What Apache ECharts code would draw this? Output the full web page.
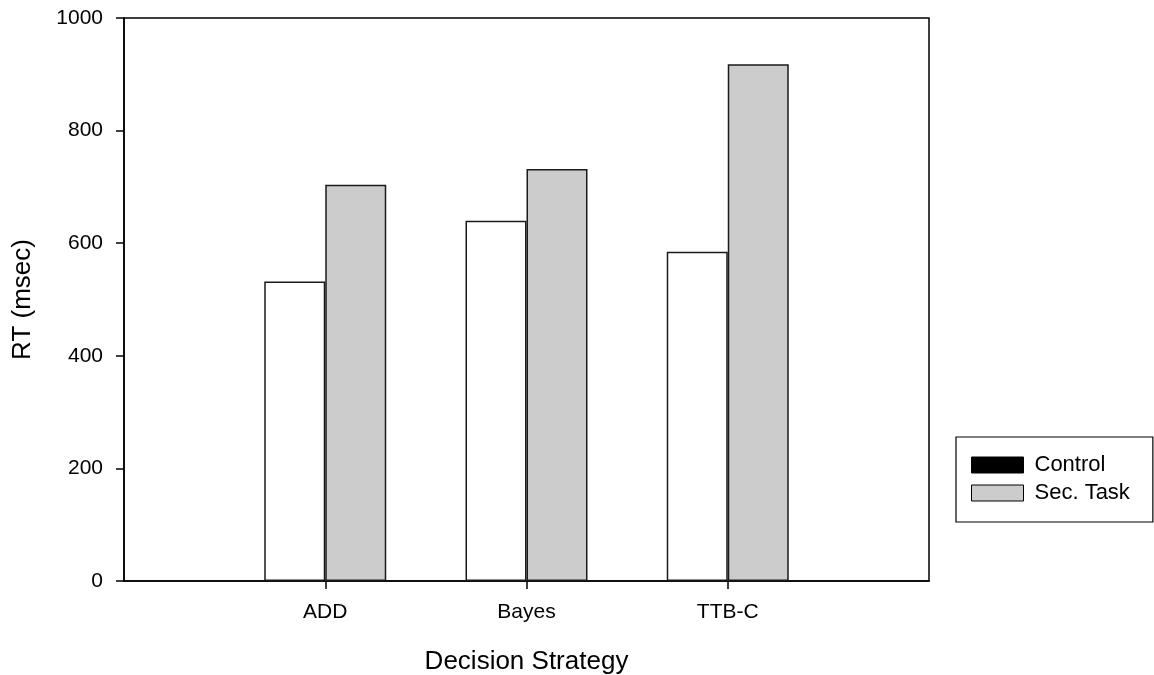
<!DOCTYPE html>
<html>
<head>
<meta charset="utf-8">
<style>
  html, body { margin: 0; padding: 0; background: #fff; }
  #chart { width: 1154px; height: 675px; }
</style>
<script src="https://cdn.jsdelivr.net/npm/echarts@6/dist/echarts.min.js"></script>
</head>
<body>
<div id="chart"></div>
<script>
// Response times by decision strategy
const categories = ['ADD', 'Bayes', 'TTB-C'];
const controlRT = [532, 640, 585];
const secTaskRT = [704, 732, 918];
const yTicks = [0, 200, 400, 600, 800, 1000];

const FONT = '"Liberation Sans", Arial, sans-serif';

// Pad the category axis with empty slots so the strategies sit at quarter points
const axisCats = [''].concat(categories, ['']);
const pad = arr => [null].concat(arr, [null]);

const chart = echarts.init(document.getElementById('chart'), null, { renderer: 'canvas' });

chart.setOption({
  animation: false,
  backgroundColor: '#fff',
  textStyle: { fontFamily: FONT, color: '#000' },
  grid: {
    left: 124, right: 225, top: 18, bottom: 94,
    containLabel: false,
    outerBoundsMode: 'none',
    show: true, borderColor: '#000', borderWidth: 1.5, backgroundColor: 'transparent'
  },
  legend: {
    orient: 'vertical',
    left: 956, top: 437,
    padding: [17, 23, 18, 15],
    borderColor: '#000', borderWidth: 1.2,
    itemWidth: 52, itemHeight: 16, itemGap: 6,
    icon: 'rect',
    textStyle: { fontFamily: FONT, fontSize: 22, color: '#000', padding: [0, 0, 0, 6] },
    data: [
      { name: 'Control', itemStyle: { color: '#000', borderColor: '#000', borderWidth: 1 } },
      { name: 'Sec. Task', itemStyle: { color: '#cccccc', borderColor: '#000', borderWidth: 1 } }
    ]
  },
  xAxis: {
    type: 'category',
    data: axisCats,
    boundaryGap: false,
    name: 'Decision Strategy',
    nameLocation: 'middle',
    nameGap: 68,
    nameTextStyle: { fontFamily: FONT, fontSize: 26, color: '#000' },
    axisLine: { lineStyle: { color: '#000', width: 1.5 } },
    axisTick: {
      show: true, length: 8, inside: false,
      interval: (idx) => idx > 0 && idx < axisCats.length - 1,
      lineStyle: { color: '#000', width: 1.5 }
    },
    axisLabel: { interval: 0, margin: 21, fontFamily: FONT, fontSize: 21, color: '#000' },
    splitLine: { show: false }
  },
  yAxis: {
    type: 'value',
    min: 0, max: 1000, interval: 200,
    name: 'RT (msec)',
    nameLocation: 'middle',
    nameGap: 88,
    nameRotate: 90,
    nameTextStyle: { fontFamily: FONT, fontSize: 26, color: '#000' },
    axisLine: { show: true, lineStyle: { color: '#000', width: 1.5 } },
    axisTick: { show: true, length: 8, inside: false, lineStyle: { color: '#000', width: 1.5 } },
    axisLabel: {
      margin: 21, fontFamily: FONT, fontSize: 21, color: '#000',
      formatter: v => (yTicks.indexOf(v) >= 0 ? String(v) : '')
    },
    splitLine: { show: false }
  },
  series: [
    {
      name: 'Control',
      type: 'bar',
      data: pad(controlRT),
      barWidth: 61,
      barGap: '0%',
      itemStyle: { color: '#ffffff', borderColor: '#1a1a1a', borderWidth: 1.5 }
    },
    {
      name: 'Sec. Task',
      type: 'bar',
      data: pad(secTaskRT),
      barWidth: 61,
      barGap: '0%',
      itemStyle: { color: '#cccccc', borderColor: '#1a1a1a', borderWidth: 1.5 }
    }
  ]
});
</script>
</body>
</html>
